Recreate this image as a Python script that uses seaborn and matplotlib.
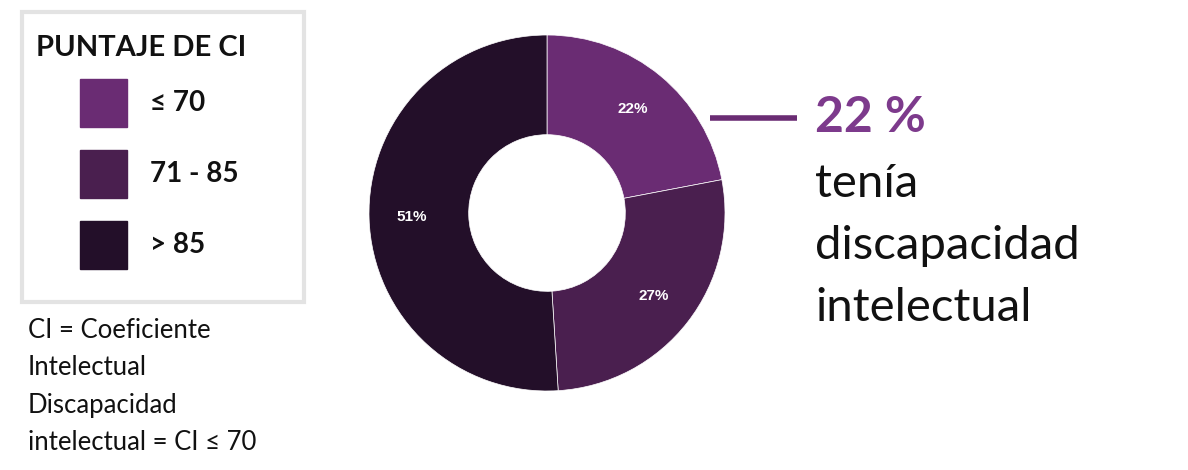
import matplotlib
matplotlib.use("Agg")
import matplotlib.pyplot as plt
import seaborn as sns
from matplotlib.patches import Rectangle

sns.set_theme(style="white")
plt.rcParams['font.family'] = ['Lato', 'DejaVu Sans']

labels = ["≤ 70", "71 - 85", "> 85"]
values = [22, 27, 51]
colors = ["#6a2c73", "#4a1f4f", "#230f29"]

fig = plt.figure(figsize=(11.88, 4.7), dpi=100)

# donut
ax = fig.add_axes([369 / 1188, 79 / 470, 356 / 1188, 356 / 470])
wedges, _, autotexts = ax.pie(values, colors=colors, startangle=90, counterclock=False,
                              autopct="%d%%", pctdistance=0.76, radius=1,
                              wedgeprops=dict(width=0.56, edgecolor="white", linewidth=0.5),
                              textprops=dict(color="white", fontsize=11, fontweight="bold",
                                             family=["Liberation Sans", "DejaVu Sans"]))
ax.set_xlim(-1, 1)
ax.set_ylim(-1, 1)
ax.set_aspect("equal")
ax.axis("off")

# overlay in pixel coords
ov = fig.add_axes([0, 0, 1, 1], zorder=-1)
ov.set_xlim(0, 1188)
ov.set_ylim(470, 0)
ov.axis("off")

ov.add_patch(Rectangle((22, 12), 282, 290, fill=False, edgecolor="#e3e3e3", linewidth=3))
ov.text(36, 48, "PUNTAJE DE CI", fontsize=21, fontweight="bold", va="center", color="#111")
for i, (lab, c) in enumerate(zip(labels, colors)):
    y = 103 + i * 71
    ov.add_patch(Rectangle((80, y - 24), 47, 48, color=c))
    ov.text(150, y, lab, fontsize=20, fontweight="bold", va="center", color="#111")

notes = ["CI = Coeficiente", "Intelectual", "Discapacidad", "intelectual = CI ≤ 70"]
for i, n in enumerate(notes):
    ov.text(28, 330 + i * 37.5, n, fontsize=18.5, va="center", color="#111")

ax_over = fig.add_axes([0, 0, 1, 1], zorder=5)
ax_over.set_xlim(0, 1188)
ax_over.set_ylim(470, 0)
ax_over.axis("off")
ax_over.plot([710, 797], [118, 118], color=colors[0], linewidth=4, solid_capstyle="butt")
ax_over.text(815, 117, "22 %", fontsize=36, fontweight="bold", va="center", color="#7d3a8c")
for i, t in enumerate(["tenía", "discapacidad", "intelectual"]):
    ax_over.text(815, 184 + i * 62, t, fontsize=34, va="center", color="#111")

fig.savefig("out.png", dpi=100)
